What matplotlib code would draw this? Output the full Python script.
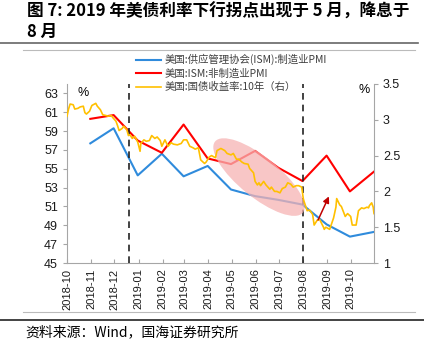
import matplotlib
matplotlib.use("Agg")
import matplotlib.pyplot as plt
import matplotlib.dates as mdates
import matplotlib.transforms as mtransforms
from matplotlib.patches import Ellipse
import pandas as pd

plt.rcParams['font.family'] = ['Liberation Sans', 'Noto Sans CJK SC', 'DejaVu Sans']

# ---- data ----
months = ["2018-10-31", "2018-11-30", "2018-12-31", "2019-01-31", "2019-02-28", "2019-03-31",
          "2019-04-30", "2019-05-31", "2019-06-30", "2019-07-31", "2019-08-31", "2019-09-30",
          "2019-10-31"]
ism_mfg = [57.7, 59.3, 54.3, 56.6, 54.2, 55.3, 52.8, 52.1, 51.7, 51.2, 49.1, 47.8, 48.3]
ism_nonmfg = [60.3, 60.7, 58.0, 56.7, 59.7, 56.1, 55.5, 56.9, 55.1, 53.7, 56.4, 52.6, 54.7]

yield_dates = [
    "2018-10-01", "2018-10-03", "2018-10-05", "2018-10-09", "2018-10-11", "2018-10-15", "2018-10-18",
    "2018-10-22", "2018-10-24", "2018-10-26", "2018-10-30", "2018-11-02", "2018-11-07", "2018-11-09",
    "2018-11-13", "2018-11-16", "2018-11-20", "2018-11-23", "2018-11-27", "2018-11-29", "2018-12-03",
    "2018-12-05", "2018-12-07", "2018-12-11", "2018-12-13", "2018-12-17", "2018-12-19", "2018-12-21",
    "2018-12-24", "2018-12-27", "2018-12-31", "2019-01-03", "2019-01-04", "2019-01-08", "2019-01-11",
    "2019-01-15", "2019-01-18", "2019-01-22", "2019-01-25", "2019-01-29", "2019-01-31", "2019-02-04",
    "2019-02-08", "2019-02-12", "2019-02-15", "2019-02-20", "2019-02-25", "2019-02-28", "2019-03-04",
    "2019-03-08", "2019-03-12", "2019-03-15", "2019-03-19", "2019-03-22", "2019-03-27", "2019-03-29",
    "2019-04-02", "2019-04-05", "2019-04-10", "2019-04-12", "2019-04-17", "2019-04-22", "2019-04-25",
    "2019-04-30", "2019-05-03", "2019-05-07", "2019-05-10", "2019-05-14", "2019-05-17", "2019-05-22",
    "2019-05-24", "2019-05-29", "2019-05-31", "2019-06-03", "2019-06-05", "2019-06-07", "2019-06-11",
    "2019-06-14", "2019-06-19", "2019-06-21", "2019-06-25", "2019-06-28", "2019-07-02", "2019-07-05",
    "2019-07-09", "2019-07-12", "2019-07-16", "2019-07-19", "2019-07-23", "2019-07-26", "2019-07-30",
    "2019-08-01", "2019-08-02", "2019-08-06", "2019-08-09", "2019-08-13", "2019-08-15", "2019-08-19",
    "2019-08-22", "2019-08-27", "2019-08-28", "2019-08-30", "2019-09-04", "2019-09-09", "2019-09-12",
    "2019-09-13", "2019-09-17", "2019-09-19", "2019-09-24", "2019-09-27", "2019-10-01", "2019-10-03",
    "2019-10-08", "2019-10-11", "2019-10-15", "2019-10-18", "2019-10-22", "2019-10-24", "2019-10-25",
    "2019-10-28", "2019-10-30", "2019-10-31"]
yield_10y = [
    3.05, 3.15, 3.22, 3.21, 3.15, 3.16, 3.18,
    3.19, 3.10, 3.08, 3.12, 3.20, 3.23, 3.19,
    3.14, 3.07, 3.06, 3.05, 3.06, 3.03, 2.98,
    2.92, 2.85, 2.88, 2.91, 2.86, 2.78, 2.79,
    2.74, 2.77, 2.69, 2.56, 2.67, 2.72, 2.70,
    2.71, 2.78, 2.74, 2.76, 2.71, 2.63, 2.72,
    2.63, 2.68, 2.66, 2.65, 2.67, 2.72, 2.72,
    2.63, 2.61, 2.59, 2.61, 2.44, 2.39, 2.41,
    2.48, 2.50, 2.47, 2.57, 2.60, 2.57, 2.53,
    2.51, 2.53, 2.45, 2.45, 2.41, 2.39, 2.38,
    2.32, 2.26, 2.14, 2.09, 2.12, 2.08, 2.14,
    2.09, 2.03, 2.06, 2.00, 2.00, 1.98, 2.04,
    2.06, 2.12, 2.10, 2.06, 2.08, 2.08, 2.06,
    1.90, 1.86, 1.73, 1.74, 1.68, 1.53, 1.60,
    1.61, 1.50, 1.47, 1.50, 1.47, 1.63, 1.78,
    1.90, 1.81, 1.79, 1.65, 1.69, 1.65, 1.53,
    1.53, 1.73, 1.77, 1.76, 1.78, 1.77, 1.80,
    1.84, 1.78, 1.69]

event_dates = ["2018-12-20", "2019-08-01"]
x_ticks = ["2018-10", "2018-11", "2018-12", "2019-01", "2019-02", "2019-03", "2019-04",
           "2019-05", "2019-06", "2019-07", "2019-08", "2019-09", "2019-10"]

labels = ["美国:供应管理协会(ISM):制造业PMI", "美国:ISM:非制造业PMI", "美国:国债收益率:10年（右）"]

title1 = "图 7: 2019 年美债利率下行拐点出现于 5 月，降息于"
title2 = "8 月"
source = "资料来源：Wind，国海证券研究所"

# ---- figure ----
fig = plt.figure(figsize=(4.24, 3.51), dpi=100)
ax = fig.add_axes([67/424, 1-263/351, (374-67)/424, (263-84)/351])
ax2 = ax.twinx()

mdt = pd.to_datetime(months)
ydt = pd.to_datetime(yield_dates)

BLUE = "#2F8BDC"
RED = "#FF0000"
GOLD = "#FFC000"

# ellipse highlight
xc = mdates.date2num(pd.Timestamp("2019-06-05"))
trans = fig.dpi_scale_trans + mtransforms.ScaledTranslation(xc, 2.20, ax2.transData)
ell = Ellipse((0, 0), width=1.13, height=0.40, angle=-39, transform=trans,
              facecolor="#F6B3B3", edgecolor="none", alpha=0.75, zorder=0)
ax2.add_patch(ell)

l1, = ax.plot(mdt, ism_mfg, color=BLUE, lw=1.5, zorder=3)
l2, = ax.plot(mdt, ism_nonmfg, color=RED, lw=1.5, zorder=3)
l3, = ax2.plot(ydt, yield_10y, color=GOLD, lw=1.2, zorder=2)

for d in event_dates:
    ax.axvline(pd.Timestamp(d), color="#222222", lw=1.2, ls=(0, (4, 3)), zorder=4)

ax2.annotate("", xy=(pd.Timestamp("2019-09-03"), 1.93), xytext=(pd.Timestamp("2019-08-20"), 1.60),
             arrowprops=dict(arrowstyle="-|>", color="#C00000", lw=1.1, mutation_scale=9,
                             shrinkA=0, shrinkB=0))

ax.set_xlim(pd.Timestamp("2018-10-01"), pd.Timestamp("2019-10-31"))
ax.set_ylim(45, 64)
ax.set_yticks(range(45, 64, 2))
ax2.set_ylim(1, 3.5)
ax2.set_yticks([1, 1.5, 2, 2.5, 3, 3.5])
ax2.set_yticklabels(["1", "1.5", "2", "2.5", "3", "3.5"])

ax.set_xticks(pd.to_datetime([t + "-01" for t in x_ticks]))
ax.set_xticklabels(x_ticks, rotation=90, fontsize=8)

for a in (ax, ax2):
    a.spines["top"].set_visible(False)
    for s in ("left", "right", "bottom"):
        a.spines[s].set_color("#A6A6A6")
    a.tick_params(colors="#A6A6A6", labelcolor="#1a1a1a", labelsize=9, length=3)
ax.spines["right"].set_visible(False)
ax2.spines["left"].set_visible(False)
ax2.spines["bottom"].set_visible(False)
ax.tick_params(axis="x", direction="in", labelsize=8, pad=4)

ax.text(0.052, 0.985, "%", transform=ax.transAxes, fontsize=9, va="top", ha="center")
ax2.text(0.967, 1.0, "%", transform=ax.transAxes, fontsize=9, va="top", ha="center")

leg = fig.legend([l1, l2, l3], labels, loc="upper left", bbox_to_anchor=(132/424, 1-50/351),
                 frameon=False, handlelength=2.4, labelspacing=0.3,
                 handletextpad=0.3, borderaxespad=0,
                 prop={"family": ["Noto Sans CJK SC", "DejaVu Sans"], "size": 7.5})
for t in leg.get_texts():
    t.set_color("#404040")

# title and frame lines
fig.text(27/424, 1-12/351, title1, fontsize=12, fontweight="bold", va="center", ha="left",
         family=["Noto Sans CJK SC", "DejaVu Sans"])
fig.text(27/424, 1-32/351, title2, fontsize=12, fontweight="bold", va="center", ha="left",
         family=["Noto Sans CJK SC", "DejaVu Sans"])
fig.add_artist(plt.Line2D([0, 418/424], [1-43/351, 1-43/351], color="#666666", lw=1.2,
                          transform=fig.transFigure))
fig.add_artist(plt.Line2D([23/424, 415/424], [1-50/351, 1-50/351], color="#BBBBBB", lw=0.8,
                          transform=fig.transFigure))
fig.add_artist(plt.Line2D([23/424, 415/424], [1-312/351, 1-312/351], color="#BBBBBB", lw=0.8,
                          transform=fig.transFigure))
fig.add_artist(plt.Line2D([0, 1], [1-320/351, 1-320/351], color="#222222", lw=1.2,
                          transform=fig.transFigure))
fig.text(25/424, 1-332/351, source, fontsize=10, va="center", ha="left",
         family=["Noto Sans CJK SC", "DejaVu Sans"])

fig.savefig("out.png", dpi=100)
